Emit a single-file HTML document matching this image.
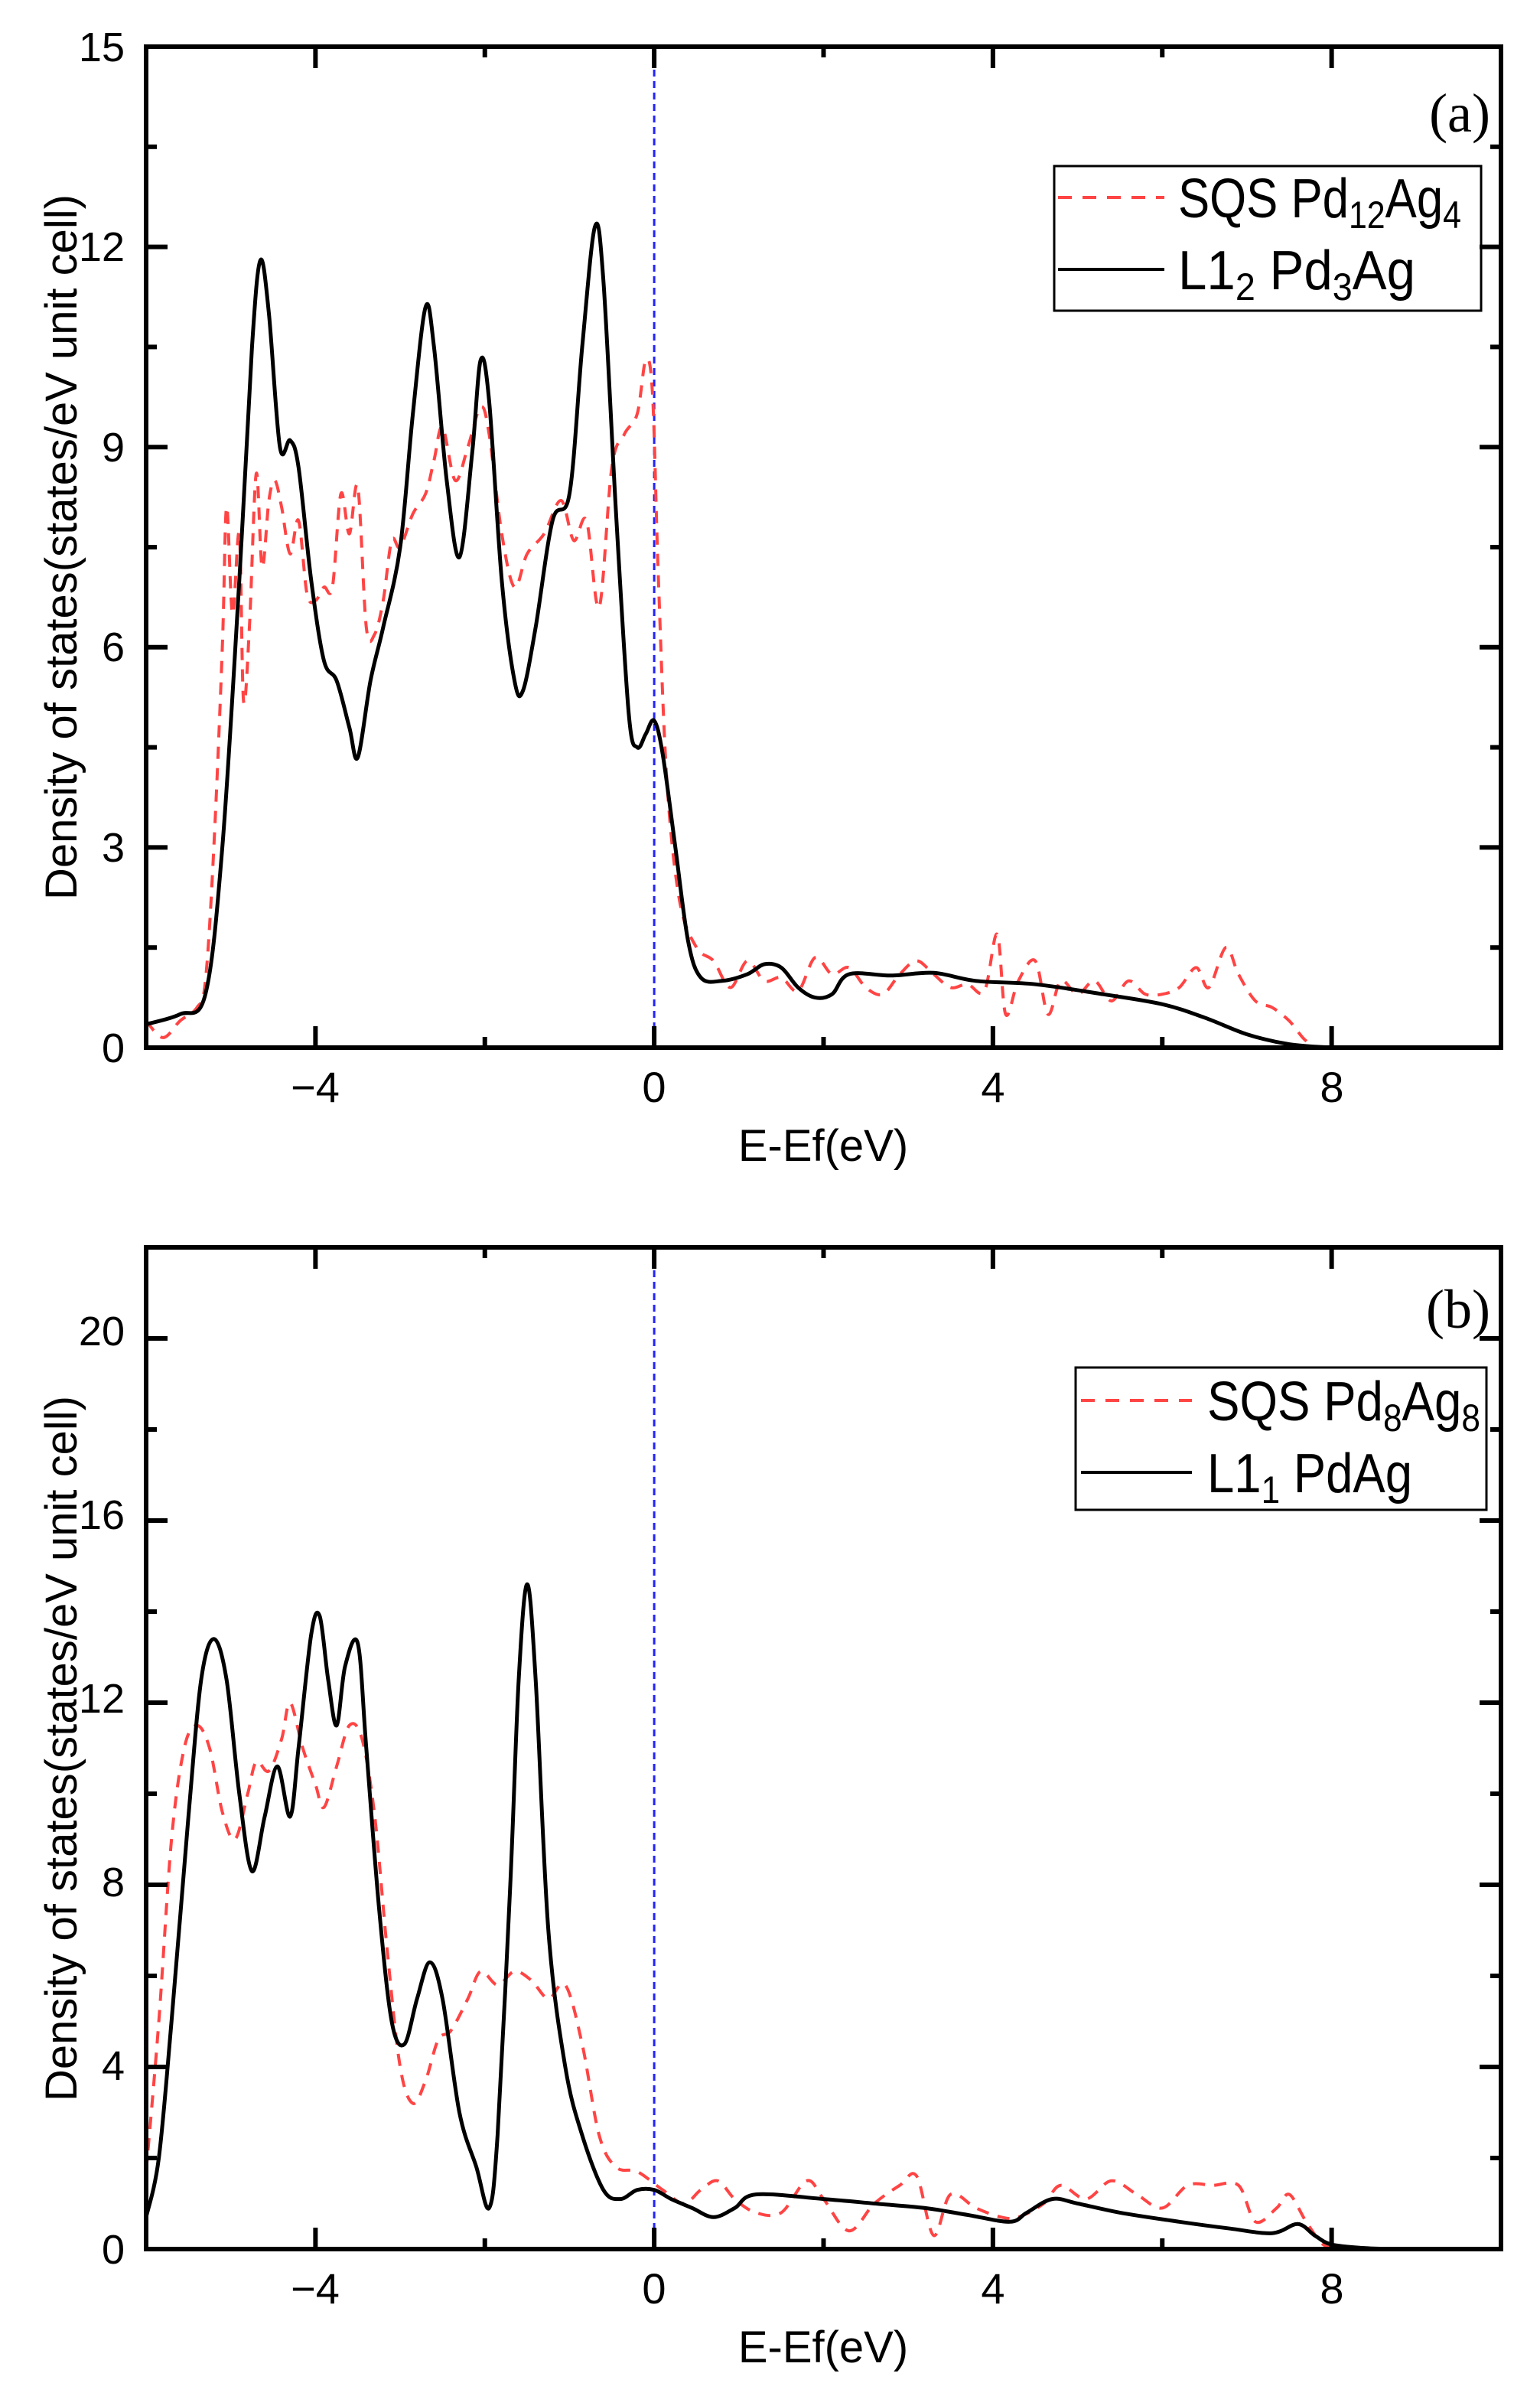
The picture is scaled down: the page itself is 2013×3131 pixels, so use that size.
<!DOCTYPE html>
<html><head><meta charset="utf-8">
<style>
html,body{margin:0;padding:0;background:#fff;}
svg{display:block;}
text{font-family:"Liberation Sans",sans-serif;fill:#000;}
</style></head>
<body>
<svg id="s" width="2013" height="3131" viewBox="0 0 2013 3131" xmlns="http://www.w3.org/2000/svg">
<rect width="2013" height="3131" fill="#fff"/>
<g id="g"></g>
<!-- Panel a texts -->
<g font-size="54" text-anchor="end">
<text x="163" y="1388">0</text><text x="163" y="1126">3</text><text x="163" y="864">6</text>
<text x="163" y="603">9</text><text x="163" y="341">12</text><text x="163" y="80">15</text>
</g>
<g font-size="56" text-anchor="middle">
<text x="412" y="1440">−4</text><text x="855" y="1440">0</text><text x="1298" y="1440">4</text><text x="1741" y="1440">8</text>
</g>
<text x="1076" y="1517" font-size="58" text-anchor="middle">E-Ef(eV)</text>
<text transform="translate(100,715) rotate(-90)" font-size="58" text-anchor="middle">Density of states(states/eV unit cell)</text>
<text x="1948" y="172" font-size="72" text-anchor="end" style="font-family:'Liberation Serif',serif">(a)</text>
<rect x="1378" y="217" width="558" height="189" fill="none" stroke="#000" stroke-width="3"/>
<line x1="1383" y1="258" x2="1522" y2="258" stroke="#f44" stroke-width="4" stroke-dasharray="18,14"/>
<line x1="1383" y1="352" x2="1522" y2="352" stroke="#000" stroke-width="4"/>
<text x="1540" y="284" font-size="72" textLength="370" lengthAdjust="spacingAndGlyphs">SQS Pd<tspan font-size="50" dy="14">12</tspan><tspan dy="-14">Ag</tspan><tspan font-size="50" dy="14">4</tspan></text>
<text x="1540" y="378" font-size="72" textLength="310" lengthAdjust="spacingAndGlyphs">L1<tspan font-size="50" dy="14">2</tspan><tspan dy="-14"> Pd</tspan><tspan font-size="50" dy="14">3</tspan><tspan dy="-14">Ag</tspan></text>
<!-- Panel b texts -->
<g font-size="54" text-anchor="end">
<text x="163" y="2958">0</text><text x="163" y="2718">4</text><text x="163" y="2478">8</text>
<text x="163" y="2238">12</text><text x="163" y="1998">16</text><text x="163" y="1758">20</text>
</g>
<g font-size="56" text-anchor="middle">
<text x="412" y="3010">−4</text><text x="855" y="3010">0</text><text x="1298" y="3010">4</text><text x="1741" y="3010">8</text>
</g>
<text x="1076" y="3087" font-size="58" text-anchor="middle">E-Ef(eV)</text>
<text transform="translate(100,2285) rotate(-90)" font-size="58" text-anchor="middle">Density of states(states/eV unit cell)</text>
<text x="1948" y="1735" font-size="72" text-anchor="end" style="font-family:'Liberation Serif',serif">(b)</text>
<rect x="1406" y="1787" width="537" height="186" fill="none" stroke="#000" stroke-width="3"/>
<line x1="1413" y1="1830" x2="1558" y2="1830" stroke="#f44" stroke-width="4" stroke-dasharray="18,14"/>
<line x1="1413" y1="1924" x2="1558" y2="1924" stroke="#000" stroke-width="4"/>
<text x="1578" y="1856" font-size="72" textLength="357" lengthAdjust="spacingAndGlyphs">SQS Pd<tspan font-size="50" dy="14">8</tspan><tspan dy="-14">Ag</tspan><tspan font-size="50" dy="14">8</tspan></text>
<text x="1578" y="1950" font-size="72" textLength="268" lengthAdjust="spacingAndGlyphs">L1<tspan font-size="50" dy="14">1</tspan><tspan dy="-14"> PdAg</tspan></text>
</svg>
<script>
(function(){
var NS="http://www.w3.org/2000/svg",g=document.getElementById("g");
function el(t,a){var e=document.createElementNS(NS,t);for(var k in a)e.setAttribute(k,a[k]);g.appendChild(e);return e;}
function panel(P){
  var L=191,R=1962,T=P.top,B=P.bot;
  function X(v){return L+(v+6)/16*(R-L);}
  function Y(v){return B-v/P.ymax*(B-T);}
  function path(pts,attrs){
    var p=pts.map(function(q){return [X(q[0]),Y(q[1])];});
    var d="M"+p[0][0].toFixed(1)+","+p[0][1].toFixed(1);
    for(var i=0;i<p.length-1;i++){
      var p0=p[Math.max(i-1,0)],p1=p[i],p2=p[i+1],p3=p[Math.min(i+2,p.length-1)];
      var c1x=p1[0]+(p2[0]-p0[0])/6,c1y=p1[1]+(p2[1]-p0[1])/6;
      var c2x=p2[0]-(p3[0]-p1[0])/6,c2y=p2[1]-(p3[1]-p1[1])/6;
      c1y=Math.min(c1y,B);c2y=Math.min(c2y,B);
      d+="C"+c1x.toFixed(1)+","+c1y.toFixed(1)+" "+c2x.toFixed(1)+","+c2y.toFixed(1)+" "+p2[0].toFixed(1)+","+p2[1].toFixed(1);
    }
    attrs.d=d;attrs.fill="none";el("path",attrs);
  }
  el("line",{x1:X(0),y1:T,x2:X(0),y2:B,stroke:"#22f","stroke-width":3,"stroke-dasharray":"9,6"});
  path(P.red,{stroke:"#f44","stroke-width":4,"stroke-dasharray":"16,12"});
  path(P.black,{stroke:"#000","stroke-width":5});
  for(var v=-6;v<=10;v+=2){var maj=(v%4===0),l=maj?28:14,x=X(v);
    el("line",{x1:x,y1:B,x2:x,y2:B-l,stroke:"#000","stroke-width":6});
    el("line",{x1:x,y1:T,x2:x,y2:T+l,stroke:"#000","stroke-width":6});}
  for(var k=0;k*P.minor<=P.ymax+1e-6;k++){var yv=k*P.minor,maj=(k%2===0),l=maj?28:14,y=Y(yv);
    el("line",{x1:L,y1:y,x2:L+l,y2:y,stroke:"#000","stroke-width":6});
    el("line",{x1:R,y1:y,x2:R-l,y2:y,stroke:"#000","stroke-width":6});}
  el("rect",{x:L,y:T,width:R-L,height:B-T,fill:"none",stroke:"#000","stroke-width":6});
}
var blackA=[[-6,0.35],[-5.6,0.5],[-5.3,0.8],[-5.1,3],[-4.9,7],[-4.75,10.5],[-4.65,11.8],[-4.55,11],[-4.42,9],[-4.3,9.1],[-4.2,8.7],[-4.05,7],[-3.9,5.8],[-3.75,5.5],[-3.6,4.8],[-3.5,4.35],[-3.35,5.5],[-3.2,6.3],[-3.0,7.5],[-2.85,9.5],[-2.7,11.1],[-2.6,10.5],[-2.45,8.5],[-2.3,7.35],[-2.15,8.9],[-2.05,10.3],[-1.95,9.7],[-1.8,7],[-1.65,5.5],[-1.55,5.35],[-1.4,6.3],[-1.2,7.9],[-1.0,8.3],[-0.85,10.5],[-0.7,12.3],[-0.6,11.5],[-0.45,8],[-0.3,5],[-0.2,4.5],[-0.1,4.7],[0,4.9],[0.1,4.4],[0.25,3],[0.4,1.6],[0.55,1.05],[0.8,1.0],[1.1,1.1],[1.3,1.25],[1.5,1.2],[1.7,0.9],[1.9,0.75],[2.1,0.8],[2.3,1.1],[2.8,1.08],[3.3,1.12],[3.8,1.0],[4.5,0.95],[5.3,0.8],[6.0,0.65],[6.5,0.45],[7.0,0.2],[7.5,0.05],[8,0]];
var redA=[[-6,0.4],[-5.8,0.15],[-5.6,0.4],[-5.4,0.6],[-5.3,1],[-5.2,3],[-5.1,6],[-5.05,8.1],[-4.98,6.5],[-4.9,7.7],[-4.85,5.2],[-4.78,6.3],[-4.7,8.6],[-4.63,7.2],[-4.55,8.2],[-4.48,8.5],[-4.4,8.1],[-4.3,7.4],[-4.2,7.9],[-4.1,6.8],[-4.0,6.7],[-3.9,6.9],[-3.8,6.9],[-3.7,8.3],[-3.6,7.7],[-3.5,8.4],[-3.4,6.3],[-3.3,6.2],[-3.2,6.7],[-3.1,7.6],[-3.0,7.5],[-2.85,8.0],[-2.7,8.3],[-2.6,8.8],[-2.5,9.3],[-2.35,8.5],[-2.2,9.0],[-2.05,9.6],[-1.95,9.2],[-1.8,7.7],[-1.65,6.9],[-1.5,7.4],[-1.3,7.7],[-1.1,8.2],[-0.95,7.6],[-0.8,7.9],[-0.65,6.6],[-0.5,8.7],[-0.35,9.2],[-0.2,9.5],[-0.1,10.3],[-0.02,9.8],[0.05,7],[0.15,4],[0.3,2.2],[0.5,1.5],[0.7,1.3],[0.9,0.9],[1.1,1.3],[1.3,1.0],[1.5,1.05],[1.7,0.85],[1.9,1.35],[2.1,1.1],[2.3,1.2],[2.5,0.9],[2.7,0.8],[2.9,1.1],[3.1,1.3],[3.3,1.1],[3.5,0.9],[3.7,0.95],[3.9,0.85],[4.05,1.7],[4.15,0.5],[4.3,1.0],[4.5,1.3],[4.65,0.5],[4.8,1.0],[5.0,0.8],[5.2,1.0],[5.4,0.7],[5.6,1.0],[5.8,0.8],[6.0,0.8],[6.2,0.9],[6.4,1.2],[6.55,0.9],[6.75,1.5],[6.9,1.1],[7.1,0.7],[7.3,0.6],[7.5,0.4],[7.7,0.1],[7.9,0],[10,0]];
var blackB=[[-6,0.7],[-5.85,2],[-5.7,5],[-5.5,9.5],[-5.35,12.5],[-5.2,13.4],[-5.05,12.5],[-4.9,10],[-4.75,8.3],[-4.6,9.5],[-4.45,10.6],[-4.3,9.5],[-4.2,11],[-4.05,13.5],[-3.95,13.9],[-3.85,12.5],[-3.75,11.5],[-3.65,12.8],[-3.5,13.3],[-3.4,11],[-3.25,7.5],[-3.1,5],[-2.95,4.5],[-2.8,5.5],[-2.65,6.3],[-2.5,5.5],[-2.3,3],[-2.1,1.8],[-1.95,0.9],[-1.85,2.5],[-1.7,8],[-1.6,12.5],[-1.5,14.6],[-1.4,12.5],[-1.25,7],[-1.05,4],[-0.85,2.5],[-0.6,1.3],[-0.4,1.1],[-0.2,1.3],[0,1.3],[0.2,1.1],[0.45,0.9],[0.7,0.7],[0.95,0.9],[1.2,1.2],[2,1.1],[2.6,1.0],[3.2,0.9],[3.7,0.75],[4.2,0.6],[4.4,0.8],[4.7,1.1],[5.0,1.0],[5.5,0.8],[6.2,0.6],[6.8,0.45],[7.3,0.35],[7.6,0.55],[7.8,0.3],[8,0.1],[8.4,0.02],[8.8,0]];
var redB=[[-6,1.7],[-5.85,5],[-5.7,9],[-5.55,11],[-5.4,11.5],[-5.25,11],[-5.1,9.6],[-4.95,9.0],[-4.8,10],[-4.7,10.7],[-4.55,10.5],[-4.4,11.2],[-4.3,12],[-4.15,11],[-4.0,10.2],[-3.9,9.7],[-3.75,10.6],[-3.6,11.5],[-3.45,11.2],[-3.3,9.5],[-3.15,6.5],[-3.0,4],[-2.85,3.2],[-2.7,3.7],[-2.55,4.6],[-2.4,4.8],[-2.2,5.5],[-2.05,6.1],[-1.85,5.8],[-1.65,6.1],[-1.45,5.9],[-1.25,5.5],[-1.05,5.8],[-0.85,4.5],[-0.65,2.5],[-0.45,1.8],[-0.2,1.7],[0.1,1.3],[0.35,1.0],[0.55,1.3],[0.75,1.5],[0.95,1.1],[1.2,0.8],[1.5,0.8],[1.8,1.5],[2.0,1.1],[2.3,0.4],[2.6,1.0],[2.9,1.4],[3.1,1.6],[3.3,0.3],[3.5,1.2],[3.8,0.9],[4.1,0.7],[4.3,0.7],[4.6,1.0],[4.8,1.4],[5.1,1.1],[5.4,1.5],[5.7,1.2],[6.0,0.9],[6.3,1.4],[6.6,1.4],[6.9,1.4],[7.1,0.6],[7.35,0.9],[7.5,1.2],[7.7,0.6],[7.9,0.1],[8.1,0]];
panel({top:61,bot:1369,ymax:15,minor:1.5,black:blackA,red:redA});
panel({top:1630,bot:2939,ymax:22,minor:2,black:blackB,red:redB});
})();
</script>
</body></html>
